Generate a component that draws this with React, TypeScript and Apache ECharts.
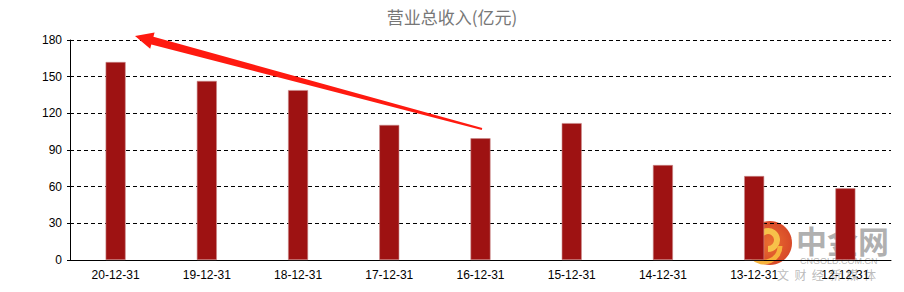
import React, { useEffect, useRef } from "react";
import * as echarts from "echarts";

const categories = ["20-12-31", "19-12-31", "18-12-31", "17-12-31", "16-12-31", "15-12-31", "14-12-31", "13-12-31", "12-12-31"];
const revenue = [162, 146.5, 139, 110.5, 99.6, 112, 77.7, 68.7, 58.7];
const yTicks = { min: 0, max: 180, interval: 30 };
const titleText = "营业总收入(亿元)";

export default function App() {
  const ref = useRef<HTMLDivElement>(null);
  useEffect(() => {
    if (!ref.current) return;
    const chart = echarts.init(ref.current, undefined, { renderer: "svg" });
    const tip = [135, 36];
    const tail = [482, 129];
    const dx = tail[0] - tip[0], dy = tail[1] - tip[1];
    const len = Math.sqrt(dx * dx + dy * dy);
    const ux = dx / len, uy = dy / len;
    const nx = -uy, ny = ux;
    const hb = [tip[0] + ux * 18, tip[1] + uy * 18];
    const pt = (p: number[], w: number) => [p[0] + nx * w, p[1] + ny * w];
    const arrowPts = [tip, pt(hb, 8.5), pt(hb, 4), pt(tail, 1), pt(tail, -1), pt(hb, -4), pt(hb, -8.5)];
    chart.setOption({
      animation: false,
      backgroundColor: "#ffffff",
      title: {
        text: titleText,
        left: "center",
        top: 3,
        textStyle: { fontFamily: "Noto Sans CJK SC", fontSize: 17, fontWeight: "normal", color: "#777777" },
      },
      grid: { left: 70, right: 13, top: 40, bottom: 32 },
      xAxis: {
        type: "category",
        data: categories,
        axisLine: { lineStyle: { color: "#000000", width: 1 } },
        axisTick: { show: false },
        axisLabel: { color: "#000000", fontFamily: "Liberation Sans", fontSize: 12, margin: 9 },
        splitLine: { show: false },
      },
      yAxis: {
        type: "value",
        min: yTicks.min,
        max: yTicks.max,
        interval: yTicks.interval,
        axisLine: { show: true, lineStyle: { color: "#000000", width: 1 } },
        axisTick: { show: true, length: 3, lineStyle: { color: "#000000" } },
        axisLabel: { color: "#000000", fontFamily: "Liberation Sans", fontSize: 12, margin: 8 },
        splitLine: { show: true, lineStyle: { color: "#000000", type: [4, 3], width: 1 } },
      },
      series: [
        {
          type: "bar",
          data: revenue,
          barWidth: 20,
          itemStyle: { color: "#9e1212", borderColor: "#c98a8a", borderWidth: 0.6 },
        },
      ],
      graphic: [
        { type: "polygon", shape: { points: arrowPts }, style: { fill: "#ff1a10" }, z: 100 },
        {
          type: "group",
          z: 100,
          children: [
            {
              type: "circle",
              shape: { cx: 770, cy: 243, r: 22 },
              style: {
                fill: new echarts.graphic.RadialGradient(0.5, 0.5, 0.5, [
                  { offset: 0, color: "#e9631f" },
                  { offset: 1, color: "#d43a16" },
                ]),
                opacity: 0.92,
              },
            },
            {
              type: "arc",
              shape: { cx: 768, cy: 240, r: 9, startAngle: Math.PI * 0.9, endAngle: Math.PI * 2.5 },
              style: { stroke: "#f7c24a", lineWidth: 6, fill: "none" },
            },
            {
              type: "arc",
              shape: { cx: 764, cy: 246, r: 16, startAngle: 0, endAngle: Math.PI * 0.75 },
              style: { stroke: "#f6b33c", lineWidth: 5, fill: "none" },
            },
            {
              type: "text",
              x: 796,
              y: 224,
              style: { text: "中金网", font: "bold 31px 'Noto Sans CJK SC'", lineHeight: 31, fill: "rgba(150,150,150,0.75)" },
            },
            {
              type: "text",
              x: 800,
              y: 256,
              style: { text: "CNGOLD.COM.CN", font: "9px 'Liberation Sans'", lineHeight: 9, fill: "rgba(170,170,170,0.85)" },
            },
            {
              type: "text",
              x: 777,
              y: 268,
              style: { text: "文  财  经  新  媒  体", font: "12px 'Noto Sans CJK SC'", lineHeight: 12, fill: "rgba(170,170,170,0.8)" },
            },
          ],
        },
      ],
    });
    return () => chart.dispose();
  }, []);
  return <div ref={ref} style={{ width: 904, height: 292, margin: -8 }} />;
}
